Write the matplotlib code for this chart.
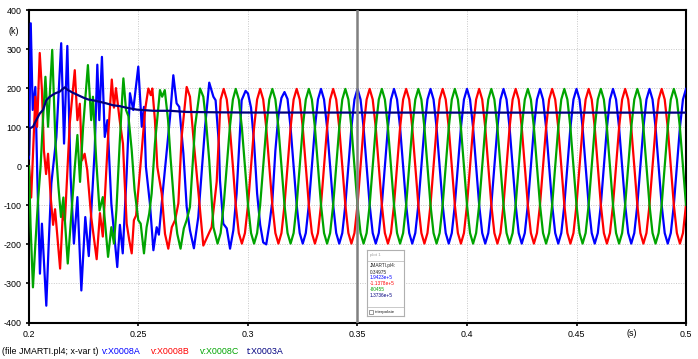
import matplotlib.pyplot as plt
import numpy as np

plt.rcParams['font.family'] = ['Liberation Sans', 'DejaVu Sans']
plt.rcParams['axes.unicode_minus'] = False

# transient part, vertices (time in ms, value in k)
blue_t_ms = [200.0, 200.8, 201.7, 202.9, 203.8, 205.0, 205.9, 207.9, 209.0, 210.2,
             212.5, 214.7, 216.0, 217.5, 219.0, 220.5, 222.1, 223.9, 225.7, 227.3,
             230.0, 231.2, 232.1, 233.3, 234.6, 235.8, 237.6, 240.3, 241.5, 242.8,
             244.6, 246.1, 247.6, 249.9, 251.5, 252.5, 253.4, 255.2, 256.8, 258.3,
             259.3, 261.3, 264.4, 265.9, 267.4, 268.6, 270.5, 272.0, 273.5, 275.3,
             277.3, 280.4, 282.3, 284.2, 285.2, 286.7, 287.2, 288.7, 290.3, 291.8,
             293.3, 294.8, 297.1, 298.9]
blue_v = [20, 366, 144, 203, -27, -275, -147, -357, -198, -44,
          75, 315, 58, 308, -27, -198, -79, -318, -130, -230,
          41, 260, 118, 280, 75, 118, -96, -258, -150, -223,
          -18, 187, 144, 255, 101, 152, -2, -95, -215, -156,
          -175, -53, 126, 233, 161, 152, 33, -104, -164, -210,
          -130, 101, 214, 178, 169, 58, -36, -147, -159, -211,
          -164, -70, 169, 193]

red_t_ms = [200.0, 201.0, 202.9, 203.7, 204.9, 205.9, 206.8, 207.8, 208.7, 209.9,
            211.0, 211.9, 214.2, 215.5, 216.4, 218.6, 220.9, 222.1, 223.2, 224.2,
            225.4, 226.6, 228.4, 230.0, 230.9, 232.4, 233.7, 236.1, 237.8, 238.8,
            239.7, 241.4, 242.9, 243.6, 244.6, 245.8, 246.9, 247.9, 248.9, 249.5,
            251.5, 253.0, 254.5, 255.6, 256.3, 257.5, 258.6, 260.6, 262.1, 263.6,
            265.2, 266.7, 268.2, 269.7, 272.0, 273.5, 275.3, 277.3, 279.6, 281.4,
            283.4, 285.7, 287.5, 288.9, 290.3, 291.7, 293.1, 294.4, 295.8, 297.2,
            298.6]
red_v = [0, -80, 178, 101, 290, 195, 41, -20, 32, -79,
         -150, -110, -262, -113, -140, 109, 246, 118, 160, 15,
         32, -10, -130, -200, -238, -120, -180, 75, 222, 150,
         200, 118, 58, -30, -147, -190, -223, -138, -126, -87,
         41, 144, 199, 182, 199, 118, -2, -70, -173, -211,
         -156, -138, -95, 75, 203, 178, 58, -62, -203, -181,
         -156, -40, 171, 198, 171, 99, 0, -99, -171, -198,
         -171]

green_t_ms = [200.0, 200.7, 201.8, 202.9, 204.1, 205.3, 206.2, 207.5, 208.7, 210.6,
              212.1, 213.4, 214.6, 215.7, 217.7, 219.0, 220.8, 222.1, 223.3, 224.7,
              226.9, 228.4, 229.2, 230.7, 232.2, 233.7, 236.1, 237.6, 238.8, 239.9,
              241.4, 242.6, 243.1, 244.3, 245.4, 246.9, 248.2, 249.9, 251.0, 252.5,
              253.7, 254.9, 256.0, 257.5, 259.8, 260.8, 262.0, 263.5, 264.6, 266.6,
              267.7, 269.2, 270.7, 272.0, 273.5, 275.8, 278.1, 279.6, 280.8, 282.3,
              284.2, 286.1, 287.5, 288.9, 290.3, 291.7, 293.1, 294.4, 295.8, 297.2,
              298.6]
green_v = [0, -150, -310, -200, -90, 0, 100, 229, 101, 298,
           58, -50, -130, -80, -249, -150, -10, 80, -40, 100,
           259, 118, 178, 15, -113, -79, -232, -156, -198, -113,
           58, 180, 225, 144, 128, 41, -60, -138, -147, -223,
           -156, -121, -70, 58, 195, 178, 195, 118, 24, -121,
           -173, -211, -159, -138, -104, 101, 199, 178, 118, 15,
           -156, -198, -171, -99, 0, 99, 171, 198, 171, 99,
           0]

# steady part, sampled every 1/720 s from 0.3 s to 0.5 s
blue_steady = [186, 150, 60, -70, -150, -195, -200, -150, -90, 40, 130, 175,
               190, 172, 99, 0, -99, -171, -198, -171, -99, 0, 99, 171,
               198, 171, 99, 0, -99, -171, -198, -171, -99, 0, 99, 171,
               198, 171, 99, 0, -99, -171, -198, -171, -99, 0, 99, 171,
               198, 171, 99, 0, -99, -171, -198, -171, -99, 0, 99, 171,
               198, 171, 99, 0, -99, -171, -198, -171, -99, 0, 99, 171,
               198, 171, 99, 0, -99, -171, -198, -171, -99, 0, 99, 171,
               198, 171, 99, 0, -99, -171, -198, -171, -99, 0, 99, 171,
               198, 171, 99, 0, -99, -171, -198, -171, -99, 0, 99, 171,
               198, 171, 99, 0, -99, -171, -198, -171, -99, 0, 99, 171,
               198, 171, 99, 0, -99, -171, -198, -171, -99, 0, 99, 171,
               198, 171, 99, 0, -99, -171, -198, -171, -99, 0, 99, 171,
               198]
red_steady = [-99, 0, 99, 171, 198, 171, 99, 0, -99, -171, -198, -171,
              -99, 0, 99, 171, 198, 171, 99, 0, -99, -171, -198, -171,
              -99, 0, 99, 171, 198, 171, 99, 0, -99, -171, -198, -171,
              -99, 0, 99, 171, 198, 171, 99, 0, -99, -171, -198, -171,
              -99, 0, 99, 171, 198, 171, 99, 0, -99, -171, -198, -171,
              -99, 0, 99, 171, 198, 171, 99, 0, -99, -171, -198, -171,
              -99, 0, 99, 171, 198, 171, 99, 0, -99, -171, -198, -171,
              -99, 0, 99, 171, 198, 171, 99, 0, -99, -171, -198, -171,
              -99, 0, 99, 171, 198, 171, 99, 0, -99, -171, -198, -171,
              -99, 0, 99, 171, 198, 171, 99, 0, -99, -171, -198, -171,
              -99, 0, 99, 171, 198, 171, 99, 0, -99, -171, -198, -171,
              -99, 0, 99, 171, 198, 171, 99, 0, -99, -171, -198, -171,
              -99]
green_steady = [-99, -171, -198, -171, -99, 0, 99, 171, 198, 171, 99, 0,
                -99, -171, -198, -171, -99, 0, 99, 171, 198, 171, 99, 0,
                -99, -171, -198, -171, -99, 0, 99, 171, 198, 171, 99, 0,
                -99, -171, -198, -171, -99, 0, 99, 171, 198, 171, 99, 0,
                -99, -171, -198, -171, -99, 0, 99, 171, 198, 171, 99, 0,
                -99, -171, -198, -171, -99, 0, 99, 171, 198, 171, 99, 0,
                -99, -171, -198, -171, -99, 0, 99, 171, 198, 171, 99, 0,
                -99, -171, -198, -171, -99, 0, 99, 171, 198, 171, 99, 0,
                -99, -171, -198, -171, -99, 0, 99, 171, 198, 171, 99, 0,
                -99, -171, -198, -171, -99, 0, 99, 171, 198, 171, 99, 0,
                -99, -171, -198, -171, -99, 0, 99, 171, 198, 171, 99, 0,
                -99, -171, -198, -171, -99, 0, 99, 171, 198, 171, 99, 0,
                -99]
steady_t_ms = 300 + np.arange(len(blue_steady)) * (1000 / 720)

navy_t_ms = [200.0, 200.3, 201.8, 203.3, 204.9, 206.4, 207.9, 209.5, 211.7, 214.0,
             216.3, 217.8, 220.1, 222.4, 224.7, 227.0, 230.0, 232.3, 235.3, 238.4,
             241.4, 244.4, 249.2, 256.8, 264.4, 272.0, 287.2, 300.0, 350.0, 400.0,
             500.0]
navy_v = [30, 97, 101, 118, 135, 144, 169, 178, 186, 191,
          202, 195, 188, 182, 176, 171, 168, 165, 161, 156,
          154, 150, 145, 142, 142, 139, 138, 137.5, 137.4, 137.3,
          137.3]

x_ticks = [0.2, 0.25, 0.3, 0.35, 0.4, 0.45, 0.5]
x_labels = ['0.2', '0.25', '0.3', '0.35', '0.4', '0.45', '0.5']
y_ticks = [-400, -300, -200, -100, 0, 100, 200, 300, 400]
y_labels = ['-400', '-300', '-200', '-100', '0', '100', '200', '300', '400']
cursor_t = 0.35

names = ['v:X0008A', 'v:X0008B', 'v:X0008C', 't:X0003A']
colors = ['#0000ff', '#ff0000', '#00a400', '#000080']
readout = ['1.9423e+5', '-1.1378e+5', '-80455', '1.3736e+5']
fs = 6.4


def join(t_ms, v, steady):
    t = np.concatenate([np.array(t_ms), steady_t_ms]) / 1000
    return t, np.concatenate([np.array(v, float), np.array(steady, float)])


fig = plt.figure(figsize=(6.98, 3.59), dpi=100)
ax = fig.add_axes([29 / 698, 1 - 322.5 / 359, 657 / 698, 312.5 / 359])

tb, vb = join(blue_t_ms, blue_v, blue_steady)
tr, vr = join(red_t_ms, red_v, red_steady)
tg, vg = join(green_t_ms, green_v, green_steady)
ax.plot(tb, vb, color=colors[0], lw=1.6, zorder=3)
ax.plot(tr, vr, color=colors[1], lw=1.6, zorder=3)
ax.plot(tg, vg, color=colors[2], lw=1.6, zorder=3)
ax.plot(np.array(navy_t_ms) / 1000, navy_v, color=colors[3], lw=1.6, zorder=4)

ax.axvline(cursor_t, color='#808080', lw=1.8, zorder=5)

ax.set_xlim(0.2, 0.5)
ax.set_ylim(-400, 400)
ax.set_xticks(x_ticks)
ax.set_xticklabels(x_labels)
ax.set_yticks(y_ticks)
ax.set_yticklabels(y_labels)
ax.grid(color='#c8c8c8', linestyle=(0, (1, 1.5)), linewidth=0.7, zorder=0)
ax.tick_params(labelsize=fs, length=2.5, width=1.2, pad=3)
for s in ax.spines.values():
    s.set_linewidth(1.5)

fig.text(14 / 698, 1 - 32 / 359, '(k)', ha='center', va='center', fontsize=fs)
fig.text(632 / 698, 1 - 334 / 359, '(s)', ha='center', va='center', fontsize=fs)

# legend line at bottom
fig.text(2 / 698, 1 - 351 / 359, '(file JMARTI.pl4; x-var t)', va='center', fontsize=fs)
leg_x = [102, 151, 199.5, 247]
for lx, n, c in zip(leg_x, names, colors):
    fig.text(lx / 698, 1 - 351 / 359, n, va='center', fontsize=fs, color=c)

# cursor readout box
bx = fig.add_axes([367 / 698, 1 - 316 / 359, 37 / 698, 66 / 359])
bx.set_xlim(0, 1)
bx.set_ylim(0, 1)
bx.set_xticks([])
bx.set_yticks([])
for s in bx.spines.values():
    s.set_color('#b0b0b0')
    s.set_linewidth(0.8)
bx.axhline(0.83, color='#c0c0c0', lw=0.6)
bx.axhline(0.13, color='#c0c0c0', lw=0.6)
bx.text(0.08, 0.92, 'plot 1', fontsize=3.2, color='#a0a0a0', va='center')
bx.text(0.08, 0.76, 'JMARTI.pl4:', fontsize=3.4, color='#222222', va='center')
bx.text(0.08, 0.665, '0.34975', fontsize=3.4, color='#222222', va='center')
ys = [0.58, 0.495, 0.40, 0.315]
for yy, txt, c in zip(ys, readout, colors):
    bx.text(0.08, yy, txt, fontsize=3.4, color=c, va='center')
bx.add_patch(plt.Rectangle((0.05, 0.035), 0.1, 0.055, fill=False, ec='#707070', lw=0.5))
bx.text(0.2, 0.065, 'interpolate', fontsize=3.2, color='#222222', va='center')

fig.savefig('out.png', dpi=100)
